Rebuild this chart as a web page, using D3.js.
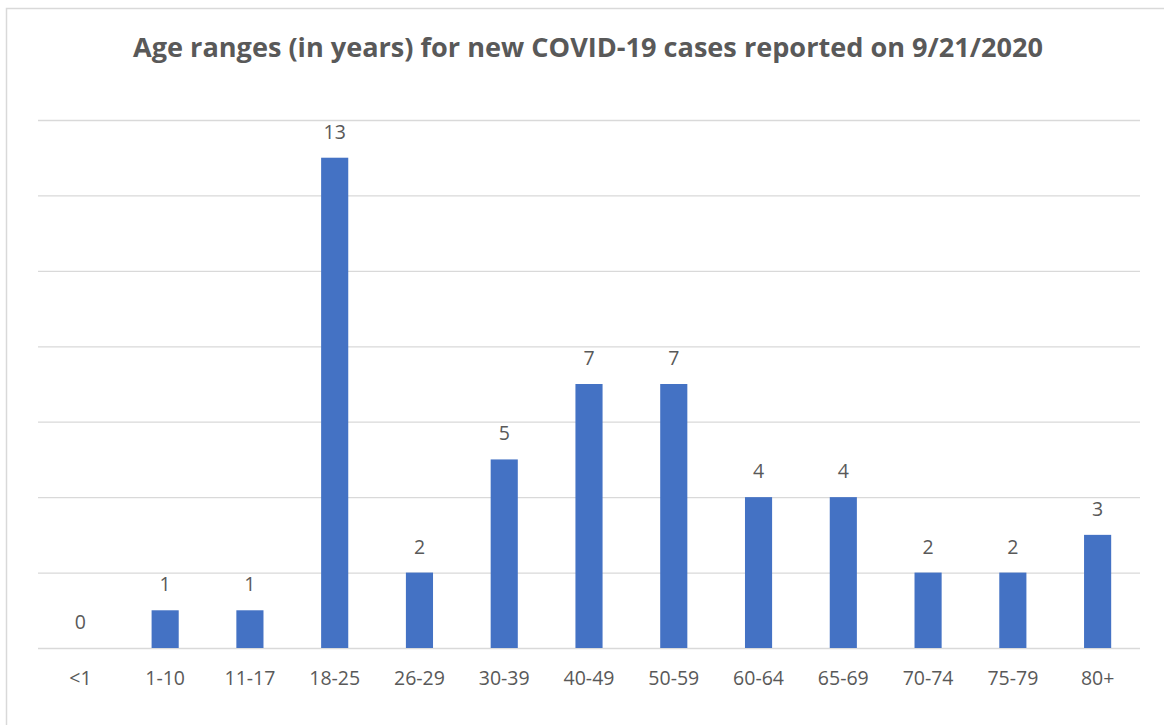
<!DOCTYPE html>
<html>
<head>
<meta charset="utf-8">
<script src="https://cdn.jsdelivr.net/npm/d3@7"></script>
<style>
  body { margin: 0; background: #fff; }
  text { font-family: "Open Sans", sans-serif; fill: #595959; }
</style>
</head>
<body>
<div id="chart"></div>
<script>
// Chart data
const ageRanges = ["<1", "1-10", "11-17", "18-25", "26-29", "30-39", "40-49", "50-59", "60-64", "65-69", "70-74", "75-79", "80+"];
const newCases = [0, 1, 1, 13, 2, 5, 7, 7, 4, 4, 2, 2, 3];
const gridTicks = [0, 2, 4, 6, 8, 10, 12, 14];
const chartTitle = "Age ranges (in years) for new COVID-19 cases reported on 9/21/2020";

const W = 1164, H = 725;
const margin = { top: 120, right: 24, bottom: 77, left: 38 };
const width = W - margin.left - margin.right;
const height = H - margin.top - margin.bottom;

const root = d3.select("#chart")
  .append("svg")
  .attr("width", W)
  .attr("height", H);

// outer chart border (runs off the right and bottom edge like the screenshot)
root.append("rect")
  .attr("x", 6.5)
  .attr("y", 8.5)
  .attr("width", W + 20)
  .attr("height", H + 20)
  .attr("fill", "none")
  .attr("stroke", "#d9d9d9")
  .attr("stroke-width", 1.5);

// Title, sized to span the same width as the original
const title = root.append("text")
  .attr("x", 588)
  .attr("y", 57)
  .attr("text-anchor", "middle")
  .style("font-weight", "bold")
  .style("font-size", "22px")
  .text(chartTitle);
const tw = title.node().getComputedTextLength();
title.style("font-size", (22 * 910 / tw).toFixed(2) + "px");

const svg = root.append("g")
  .attr("transform", `translate(${margin.left},${margin.top})`);

const xScale = d3.scaleBand()
  .domain(ageRanges)
  .range([0, width])
  .paddingInner(0.68)
  .paddingOuter(0.34);

const yScale = d3.scaleLinear()
  .domain([0, 14])
  .range([height, 0]);

// horizontal gridlines
svg.append("g")
  .attr("class", "grid")
  .call(d3.axisLeft(yScale).tickValues(gridTicks).tickSize(-width).tickFormat(""))
  .call(g => g.select(".domain").remove())
  .call(g => g.selectAll("line").attr("stroke", "#d9d9d9").attr("stroke-width", 1.3));

// bars
const data = ageRanges.map((a, i) => ({ age: a, cases: newCases[i] }));

svg.selectAll(".bar")
  .data(data)
  .enter()
  .append("rect")
  .attr("class", "bar")
  .attr("x", d => xScale(d.age))
  .attr("width", xScale.bandwidth())
  .attr("y", d => yScale(d.cases))
  .attr("height", d => yScale(0) - yScale(d.cases))
  .attr("fill", "#4472c4");

// value labels
svg.selectAll(".val")
  .data(data)
  .enter()
  .append("text")
  .attr("class", "val")
  .attr("x", d => xScale(d.age) + xScale.bandwidth() / 2)
  .attr("y", d => yScale(d.cases) - 19)
  .attr("text-anchor", "middle")
  .style("font-size", "19.5px")
  .text(d => d.cases);

// category axis
const xAxis = svg.append("g")
  .attr("transform", `translate(0,${height})`)
  .call(d3.axisBottom(xScale).tickSize(0).tickPadding(0));
xAxis.select(".domain").remove();
xAxis.selectAll("text")
  .attr("dy", null)
  .attr("y", 37)
  .style("font-size", "19.5px")
  .attr("fill", "#595959");
</script>
</body>
</html>
